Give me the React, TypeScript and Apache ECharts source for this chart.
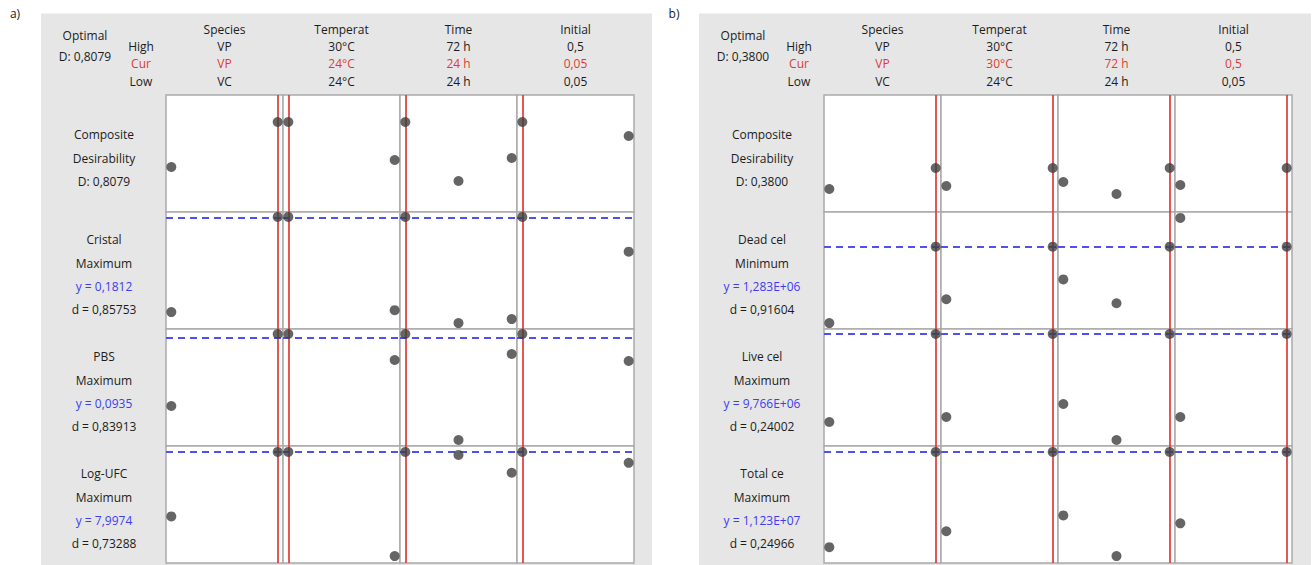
import React, { useEffect, useRef } from "react";
import * as echarts from "echarts";

// ---------- factors ----------
const factorNames = ["Species", "Temperat", "Time", "Initial"];
const factorHighText = ["VP", "30°C", "72 h", "0,5"];
const factorLowText = ["VC", "24°C", "24 h", "0,05"];
const speciesLevels = [0, 1]; // VC, VP
const temperatureLevels = [24, 30];
const timeLevels = [24, 48, 72];
const initialLevels = [0.05, 0.5];
const factorLevels = [speciesLevels, temperatureLevels, timeLevels, initialLevels];

// ---------- panel a ----------
const optimalTextA = "D: 0,8079";
const curTextA = ["VP", "24°C", "24 h", "0,05"];
const curSettingA = [1, 24, 24, 0.05];
const rowNamesA = ["Composite", "Cristal", "PBS", "Log-UFC"];
const rowGoalsA = ["Desirability", "Maximum", "Maximum", "Maximum"];
const rowYTextA = ["D: 0,8079", "y = 0,1812", "y = 0,0935", "y = 7,9974"];
const rowDTextA = ["", "d = 0,85753", "d = 0,83913", "d = 0,73288"];
const compositeA = [[0.404, 0.808], [0.808, 0.467], [0.808, 0.278, 0.485], [0.808, 0.682]];
const cristalA = [[0.0273, 0.1812], [0.1812, 0.0305], [0.1812, 0.0096, 0.016], [0.1812, 0.1251]];
const pbsA = [[0.0334, 0.0935], [0.0935, 0.0718], [0.0935, 0.005, 0.0768], [0.0935, 0.071]];
const logUfcA = [[6.258, 7.9974], [7.9974, 5.187], [7.9974, 7.917, 7.435], [7.9974, 7.703]];
const rangesA = [[0, 1.05], [0, 0.1892], [0, 0.0977], [5, 8.158]];

// ---------- panel b ----------
const optimalTextB = "D: 0,3800";
const curTextB = ["VP", "30°C", "72 h", "0,5"];
const curSettingB = [1, 30, 72, 0.5];
const rowNamesB = ["Composite", "Dead cel", "Live cel", "Total ce"];
const rowGoalsB = ["Desirability", "Minimum", "Maximum", "Maximum"];
const rowYTextB = ["D: 0,3800", "y = 1,283E+06", "y = 9,766E+06", "y = 1,123E+07"];
const rowDTextB = ["", "d = 0,91604", "d = 0,24002", "d = 0,24966"];
const compositeB = [[0.1986, 0.38], [0.2246, 0.38], [0.2591, 0.1555, 0.38], [0.2332, 0.38]];
const deadCelB = [[92700, 1283000], [463700, 1283000], [772900, 401900, 1283000], [1731200, 1283000]];
const liveCelB = [[2093000, 9766000], [2529000, 9766000], [3662000, 523000, 9766000], [2529000, 9766000]];
const totalCeB = [[1604000, 11230000], [3208000, 11230000], [4813000, 702000, 11230000], [4011000, 11230000]];
const rangesB = [[0, 1.0105], [0, 1824000], [0, 10202000], [0, 11831000]];

const panels = [
  {
    tag: "a)", dx: 0, optimal: optimalTextA, curText: curTextA, cur: curSettingA,
    names: rowNamesA, goals: rowGoalsA, yText: rowYTextA, dText: rowDTextA,
    data: [compositeA, cristalA, pbsA, logUfcA], ranges: rangesA,
  },
  {
    tag: "b)", dx: 658, optimal: optimalTextB, curText: curTextB, cur: curSettingB,
    names: rowNamesB, goals: rowGoalsB, yText: rowYTextB, dText: rowDTextB,
    data: [compositeB, deadCelB, liveCelB, totalCeB], ranges: rangesB,
  },
];

// ---------- layout ----------
const PLOT_LEFT = 166;
const PLOT_TOP = 95;
const COL_W = 117;
const ROW_H = 117;
const FONT = '12px "Open Sans", "Noto Sans", sans-serif';
const TXT = "#1c1c1c";
const RED = "#e03a36";
const BLUE = "#3d3df2";

function txt(text: string, x: number, y: number, fill = TXT, align = "center") {
  return {
    type: "text",
    x, y,
    silent: true,
    style: { text, fill, font: FONT, textAlign: align, textVerticalAlign: "middle" },
  };
}

function buildOption() {
  const grid: any[] = [];
  const xAxis: any[] = [];
  const yAxis: any[] = [];
  const series: any[] = [];
  const graphic: any[] = [];

  panels.forEach((p) => {
    graphic.push({
      type: "rect", silent: true, z: -10,
      shape: { x: 41 + p.dx, y: 13.5, width: p.dx ? 612 : 611, height: 552 },
      style: { fill: "#e6e6e6" },
    });
    graphic.push(txt(p.tag, 15 + p.dx + (p.dx ? 1 : 0), 13));
    graphic.push(txt("Optimal", 84 + p.dx + 1, 35));
    graphic.push(txt(p.optimal, 84 + p.dx + 1, 56.5));
    graphic.push(txt("High", 140 + p.dx + 1, 46.5));
    graphic.push(txt("Cur", 140 + p.dx + 1, 63, RED));
    graphic.push(txt("Low", 140 + p.dx + 1, 81));

    for (let c = 0; c < 4; c++) {
      const cx = PLOT_LEFT + p.dx + COL_W * c + COL_W / 2;
      graphic.push(txt(factorNames[c], cx, 29));
      graphic.push(txt(factorHighText[c], cx, 46.5));
      graphic.push(txt(p.curText[c], cx, 63, RED));
      graphic.push(txt(factorLowText[c], cx, 81));
    }

    for (let r = 0; r < 4; r++) {
      const top = PLOT_TOP + ROW_H * r;
      const lx = 103 + p.dx + 1;
      if (r === 0) {
        graphic.push(txt(p.names[r], lx, top + 39));
        graphic.push(txt(p.goals[r], lx, top + 63));
        graphic.push(txt(p.yText[r], lx, top + 86));
      } else {
        graphic.push(txt(p.names[r], lx, top + 27));
        graphic.push(txt(p.goals[r], lx, top + 51));
        graphic.push(txt(p.yText[r], lx, top + 74, BLUE));
        graphic.push(txt(p.dText[r], lx, top + 97));
      }

      const [ylo, yhi] = p.ranges[r];
      for (let c = 0; c < 4; c++) {
        const idx = grid.length;
        const levels = factorLevels[c];
        const lo = levels[0];
        const hi = levels[levels.length - 1];
        const pad = (hi - lo) * 0.05;
        grid.push({
          left: PLOT_LEFT + p.dx + COL_W * c,
          top,
          width: COL_W,
          height: ROW_H,
          show: true,
          backgroundColor: "#ffffff",
          borderColor: "#ababab",
          borderWidth: 1.5,
        });
        xAxis.push({ type: "value", gridIndex: idx, min: lo - pad, max: hi + pad, show: false });
        yAxis.push({ type: "value", gridIndex: idx, min: ylo, max: yhi, show: false });
        const vals = p.data[r][c];
        const curIdx = levels.indexOf(p.cur[c]);
        const curVal = vals[curIdx];
        const mlData: any[] = [{ xAxis: p.cur[c], lineStyle: { color: RED, width: 2, type: "solid", opacity: 0.85 } }];
        if (r > 0) {
          mlData.push({ yAxis: curVal, lineStyle: { color: "#4f4ff2", width: 1.8, type: [7, 5] } });
        }
        series.push({
          type: "scatter",
          xAxisIndex: idx,
          yAxisIndex: idx,
          data: levels.map((lv, i) => [lv, vals[i]]),
          symbol: "circle",
          symbolSize: 10,
          itemStyle: { color: "#3f3f3f" },
          silent: true,
          z: 3,
          markLine: {
            silent: true,
            symbol: "none",
            label: { show: false },
            z: 2,
            data: mlData,
          },
        });
      }
    }
  });

  return {
    animation: false,
    backgroundColor: "#ffffff",
    grid, xAxis, yAxis, series, graphic,
  };
}

export default function App() {
  const ref = useRef<HTMLDivElement>(null);
  useEffect(() => {
    if (!ref.current) return;
    const chart = echarts.init(ref.current, undefined, { renderer: "svg" });
    chart.setOption(buildOption() as any);
    return () => chart.dispose();
  }, []);
  return (
    <div
      ref={ref}
      style={{ position: "absolute", left: 0, top: 0, width: 1312, height: 565, overflow: "hidden" }}
    />
  );
}
